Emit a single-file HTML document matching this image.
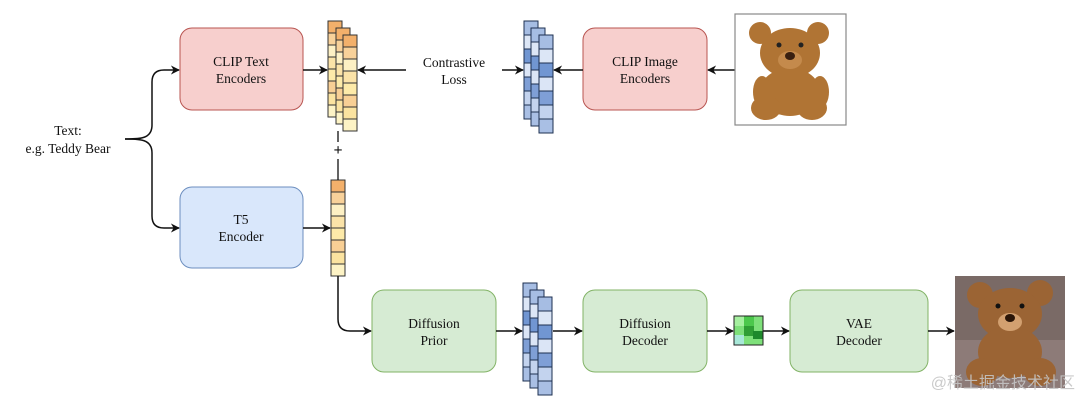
<!DOCTYPE html>
<html><head><meta charset="utf-8"><style>
html,body{margin:0;padding:0;background:#fff;width:1080px;height:408px;overflow:hidden}
text{font-family:"Liberation Serif",serif;font-size:13.5px;fill:#111}
</style></head><body>
<svg width="1080" height="408" viewBox="0 0 1080 408" xmlns="http://www.w3.org/2000/svg">
<defs>
<marker id="a" viewBox="0 0 10 10" refX="9" refY="5" markerWidth="9" markerHeight="9" orient="auto-start-reverse" markerUnits="userSpaceOnUse"><path d="M0,0 L10,5 L0,10 L3,5 z" fill="#111"/></marker>
<g id="oc" stroke="#333" stroke-width="1">
<rect x="0" y="0" width="14" height="12" fill="#f3b06b"/>
<rect x="0" y="12" width="14" height="12" fill="#f8d19a"/>
<rect x="0" y="24" width="14" height="12" fill="#fdf0c4"/>
<rect x="0" y="36" width="14" height="12" fill="#fbe3a8"/>
<rect x="0" y="48" width="14" height="12" fill="#fdeaa9"/>
<rect x="0" y="60" width="14" height="12" fill="#f8cf95"/>
<rect x="0" y="72" width="14" height="12" fill="#fbe3a0"/>
<rect x="0" y="84" width="14" height="12" fill="#fdf3c5"/>
</g>
<g id="bc" stroke="#1e3050" stroke-width="1">
<rect x="0" y="0" width="14" height="14" fill="#a6bde3"/>
<rect x="0" y="14" width="14" height="14" fill="#dce6f6"/>
<rect x="0" y="28" width="14" height="14" fill="#7196d2"/>
<rect x="0" y="42" width="14" height="14" fill="#dbe5f6"/>
<rect x="0" y="56" width="14" height="14" fill="#7f9fd6"/>
<rect x="0" y="70" width="14" height="14" fill="#c3d3ee"/>
<rect x="0" y="84" width="14" height="14" fill="#a9bfe4"/>
</g>
</defs>
<rect x="180" y="28" width="123" height="82" rx="12" fill="#f7cfcd" stroke="#b85450"/>
<text x="241" y="66" text-anchor="middle">CLIP Text</text><text x="241" y="83" text-anchor="middle">Encoders</text>
<rect x="583" y="28" width="124" height="82" rx="12" fill="#f7cfcd" stroke="#b85450"/>
<text x="645" y="66" text-anchor="middle">CLIP Image</text><text x="645" y="83" text-anchor="middle">Encoders</text>
<rect x="180" y="187" width="123" height="81" rx="12" fill="#d9e7fb" stroke="#6c8ebf"/>
<text x="241" y="224" text-anchor="middle">T5</text><text x="241" y="241" text-anchor="middle">Encoder</text>
<rect x="372" y="290" width="124" height="82" rx="12" fill="#d6ebd3" stroke="#82b366"/>
<text x="434" y="328" text-anchor="middle">Diffusion</text><text x="434" y="345" text-anchor="middle">Prior</text>
<rect x="583" y="290" width="124" height="82" rx="12" fill="#d6ebd3" stroke="#82b366"/>
<text x="645" y="328" text-anchor="middle">Diffusion</text><text x="645" y="345" text-anchor="middle">Decoder</text>
<rect x="790" y="290" width="138" height="82" rx="12" fill="#d6ebd3" stroke="#82b366"/>
<text x="859" y="328" text-anchor="middle">VAE</text><text x="859" y="345" text-anchor="middle">Decoder</text>
<text x="68" y="135" text-anchor="middle">Text:</text>
<text x="68" y="153" text-anchor="middle">e.g. Teddy Bear</text>
<path d="M125,139 C140,139 152,139 152,125 L152,82 Q152,70 164,70 L179,70" fill="none" stroke="#111" stroke-width="1.5" marker-end="url(#a)"/>
<path d="M125,139 C140,139 152,139 152,153 L152,216 Q152,228 164,228 L179,228" fill="none" stroke="#111" stroke-width="1.5" marker-end="url(#a)"/>
<use href="#oc" transform="translate(328,21)"/>
<use href="#oc" transform="translate(336,28)"/>
<use href="#oc" transform="translate(343,35)"/>
<use href="#oc" transform="translate(331,180)"/>
<use href="#bc" transform="translate(524,21)"/>
<use href="#bc" transform="translate(531,28)"/>
<use href="#bc" transform="translate(539,35)"/>
<use href="#bc" transform="translate(523,283)"/>
<use href="#bc" transform="translate(530,290)"/>
<use href="#bc" transform="translate(538,297)"/>
<line x1="338" y1="131" x2="338" y2="142" stroke="#111" stroke-width="1.3"/>
<text x="338" y="155" text-anchor="middle" style="font-size:16px;font-weight:bold">+</text>
<line x1="338" y1="159" x2="338" y2="180" stroke="#111" stroke-width="1.3"/>
<g stroke="#111" stroke-width="1.5" fill="none">
<line x1="303" y1="70" x2="327" y2="70" marker-end="url(#a)"/>
<line x1="406" y1="70" x2="358" y2="70" marker-end="url(#a)"/>
<line x1="502" y1="70" x2="523" y2="70" marker-end="url(#a)"/>
<line x1="583" y1="70" x2="554" y2="70" marker-end="url(#a)"/>
<line x1="735" y1="70" x2="708" y2="70" marker-end="url(#a)"/>
<line x1="303" y1="228" x2="330" y2="228" marker-end="url(#a)"/>
<path d="M338,276 L338,319 Q338,331 350,331 L371,331" marker-end="url(#a)"/>
<line x1="496" y1="331" x2="522" y2="331" marker-end="url(#a)"/>
<line x1="553" y1="331" x2="582" y2="331" marker-end="url(#a)"/>
<line x1="707" y1="331" x2="733" y2="331" marker-end="url(#a)"/>
<line x1="763" y1="331" x2="789" y2="331" marker-end="url(#a)"/>
<line x1="928" y1="331" x2="954" y2="331" marker-end="url(#a)"/>
</g>
<text x="454" y="67" text-anchor="middle">Contrastive</text>
<text x="454" y="84" text-anchor="middle">Loss</text>
<g>
<rect x="734" y="316" width="29" height="29" fill="#7ee07a"/>
<rect x="734" y="316" width="10" height="10" fill="#a6f0a0"/>
<rect x="744" y="316" width="10" height="10" fill="#4cc84c"/>
<rect x="744" y="326" width="10" height="10" fill="#2f9e34"/>
<rect x="753" y="331" width="10" height="8" fill="#1e8a2c"/>
<rect x="734" y="335" width="10" height="10" fill="#a8e8d8"/>
<rect x="734" y="316" width="29" height="29" fill="none" stroke="#222"/>
</g>
<rect x="735" y="14" width="111" height="111" fill="#fff" stroke="#888" stroke-width="1.2"/>
<g fill="#b07434">
<circle cx="760" cy="33" r="11"/><circle cx="818" cy="33" r="11"/>
<ellipse cx="790" cy="53" rx="30" ry="25"/>
<ellipse cx="790" cy="92" rx="30" ry="24"/>
<ellipse cx="762" cy="92" rx="9" ry="16"/><ellipse cx="820" cy="92" rx="9" ry="16"/>
<ellipse cx="766" cy="108" rx="15" ry="12"/><ellipse cx="812" cy="108" rx="15" ry="12"/>
</g>
<ellipse cx="790" cy="60" rx="12" ry="9" fill="#c48a4c"/>
<ellipse cx="790" cy="56" rx="5" ry="4" fill="#3a2010"/>
<circle cx="779" cy="45" r="2.5" fill="#222"/><circle cx="801" cy="45" r="2.5" fill="#222"/>
<rect x="955" y="276" width="110" height="112" fill="#7a6a66"/>
<rect x="955" y="340" width="110" height="48" fill="#8d7b78"/>
<g fill="#9b6434">
<circle cx="980" cy="295" r="13"/><circle cx="1040" cy="293" r="13"/>
<ellipse cx="1010" cy="314" rx="32" ry="26"/>
<ellipse cx="1010" cy="352" rx="32" ry="26"/>
<ellipse cx="982" cy="372" rx="16" ry="14"/><ellipse cx="1040" cy="372" rx="16" ry="14"/>
</g>
<ellipse cx="1010" cy="322" rx="12" ry="9" fill="#d2a070"/>
<ellipse cx="1010" cy="318" rx="5" ry="4" fill="#2a1508"/>
<circle cx="998" cy="306" r="2.5" fill="#111"/><circle cx="1022" cy="306" r="2.5" fill="#111"/>
<text x="1075" y="388" text-anchor="end" style="font-family:'Liberation Sans','Noto Sans CJK SC',sans-serif;font-size:16px;fill:#c4c4c4;fill-opacity:0.9">@稀土掘金技术社区</text>
</svg>
</body></html>
